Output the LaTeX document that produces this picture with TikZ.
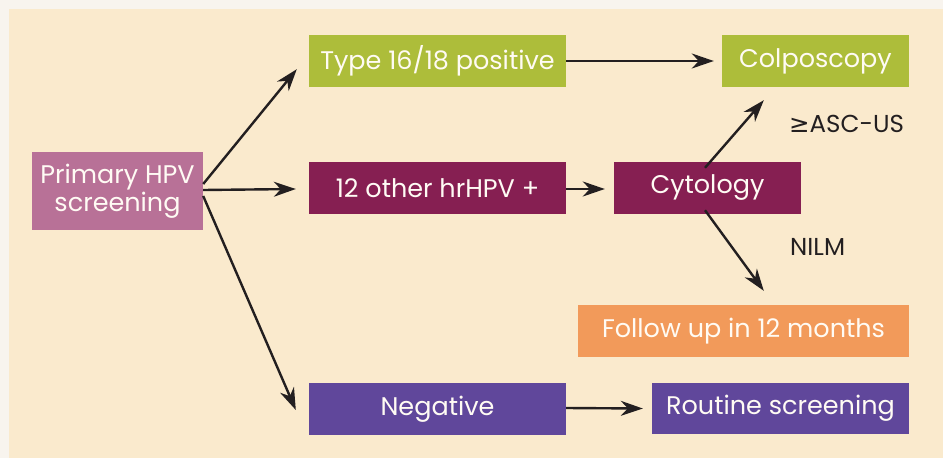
\documentclass[tikz,border=0pt]{standalone}
\usepackage{fontspec}
\setmainfont{Poppins}
\newfontfamily\symfont{DejaVu Sans}
\usetikzlibrary{arrows.meta,calc}
\definecolor{outerbg}{HTML}{F8F4EE}
\definecolor{panel}{HTML}{FAEACD}
\definecolor{mauve}{HTML}{B87197}
\definecolor{lime}{HTML}{ADBD3A}
\definecolor{maroon}{HTML}{861F52}
\definecolor{orangebox}{HTML}{F29A5A}
\definecolor{purplebox}{HTML}{60479B}
\definecolor{ink}{HTML}{231F20}
\definecolor{boxtext}{HTML}{FFFBF4}
\begin{document}
\begin{tikzpicture}[x=1pt,y=-1pt,
  box/.style={inner sep=0pt, text=boxtext, font=\fontsize{25.5}{28}\selectfont, align=center, anchor=center},
  lbl/.style={inner sep=0pt, text=ink, font=\fontsize{24.5}{28}\selectfont},
  arr/.style={draw=ink, line width=2.4pt, -{Stealth[length=22pt,width=15pt,inset=7pt]}}]
\useasboundingbox (0,0) rectangle (943,458);
\fill[outerbg] (0,0) rectangle (943,458);
\fill[panel] (9,9) rectangle (943,458);
\node[box, fill=mauve, minimum width=171pt, minimum height=78pt] (prim) at (117.5,191) {Primary HPV\\screening};
\node[box, fill=lime, minimum width=257pt, minimum height=52pt] (type) at (437.5,61) {Type 16/18 positive};
\node[box, fill=maroon, minimum width=257pt, minimum height=52pt] (other) at (437.5,188) {12 other hrHPV +};
\node[box, fill=maroon, minimum width=187pt, minimum height=52pt] (cyto) at (707.5,188) {Cytology};
\node[box, fill=lime, minimum width=187pt, minimum height=52pt] (colp) at (815.5,61) {Colposcopy};
\node[box, fill=orangebox, minimum width=331pt, minimum height=52pt] (follow) at (743.5,331) {Follow up in 12 months};
\node[box, fill=purplebox, minimum width=257pt, minimum height=52pt] (neg) at (437.5,409) {Negative};
\node[box, fill=purplebox, minimum width=257pt, minimum height=51pt] (routine) at (780.5,408.5) {Routine screening};
\node[lbl, anchor=west] (asc) at (789,124) {{\symfont ≥}ASC-US};
\node[lbl, anchor=west] (nilm) at (790,247) {NILM};
\draw[arr] ($(prim.east)+(0,-7)$) -- ($(type.south west)+(-12,-18)$);
\draw[arr] ($(prim.east)+(0,-1)$) -- ($(other.west)+(-13,1)$);
\draw[arr] ($(prim.east)+(0,5)$) -- ($(neg.west)+(-13,1)$);
\draw[arr] (type.east) -- ($(colp.west)+(-8,0)$);
\draw[arr] ($(other.east)+(0,1)$) -- ($(cyto.west)+(-9,1)$);
\draw[arr] ($(cyto.north)+(-2.5,6)$) -- ($(colp.south west)+(42,13)$);
\draw[arr] ($(cyto.south)+(-2.5,-4)$) -- ($(follow.north west)+(186,-14)$);
\draw[arr] ($(neg.east)+(0,-1)$) -- ($(routine.west)+(-9,0)$);
\end{tikzpicture}
\end{document}
